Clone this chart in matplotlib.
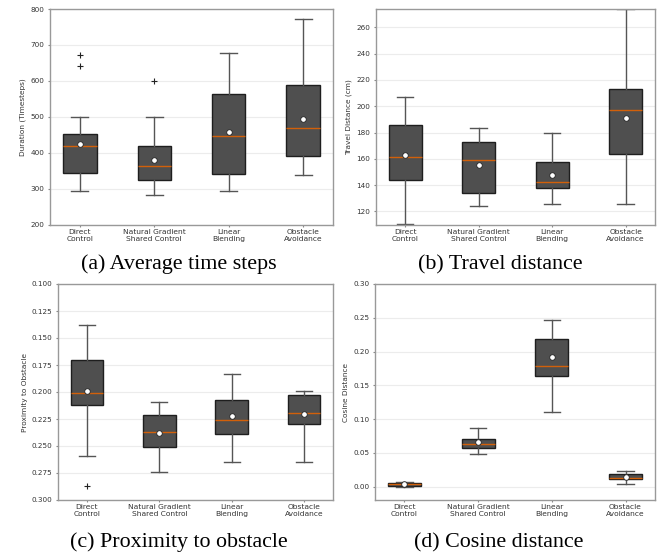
import numpy as np
import matplotlib.pyplot as plt
from matplotlib.patches import Rectangle

labels = ['Direct\nControl', 'Natural Gradient\nShared Control', 'Linear\nBlending', 'Obstacle\nAvoidance']

# (a) duration in timesteps
dur_lo = [294, 282, 293, 337]
dur_q1 = [342, 325, 340, 392]
dur_med = [418, 362, 446, 468]
dur_q3 = [451, 419, 562, 589]
dur_hi = [498, 499, 677, 773]
dur_mean = [423, 380, 457, 495]
dur_fliers = [[641, 673], [599], [], []]

# (b) travel distance (cm)
trav_lo = [110.7, 123.8, 125.8, 125.6]
trav_q1 = [144.0, 134.2, 137.7, 163.4]
trav_med = [161.3, 159.0, 142.7, 197.4]
trav_q3 = [185.8, 172.7, 157.7, 213.1]
trav_hi = [207.3, 183.5, 180.0, 274.0]
trav_mean = [163.0, 155.2, 148.0, 191.3]
trav_fliers = [[], [], [], []]

# (c) proximity to obstacle
prox_lo = [0.1383, 0.2088, 0.1832, 0.1989]
prox_q1 = [0.1702, 0.2215, 0.2076, 0.2032]
prox_med = [0.2008, 0.2366, 0.2261, 0.2196]
prox_q3 = [0.2122, 0.2512, 0.2385, 0.2292]
prox_hi = [0.2589, 0.2743, 0.2651, 0.2645]
prox_mean = [0.1995, 0.2382, 0.2221, 0.2202]
prox_fliers = [[0.2867], [], [], []]

# (d) cosine distance
cos_lo = [0.0, 0.0485, 0.1099, 0.0040]
cos_q1 = [0.0010, 0.0574, 0.1634, 0.0104]
cos_med = [0.0035, 0.0629, 0.1792, 0.0129]
cos_q3 = [0.0059, 0.0708, 0.2183, 0.0183]
cos_hi = [0.0074, 0.0866, 0.2470, 0.0233]
cos_mean = [0.0035, 0.0658, 0.1920, 0.0144]
cos_fliers = [[], [], [], []]


def make_stats(lo, q1, med, q3, hi, mean, fliers):
    stats = []
    for i in range(len(lo)):
        stats.append(dict(whislo=lo[i], q1=q1[i], med=med[i], q3=q3[i],
                          whishi=hi[i], mean=mean[i], fliers=fliers[i]))
    return stats


def draw_panel(ax, stats, ylabel, ylim, yticks, fmt):
    ax.bxp(stats, positions=[1, 2, 3, 4], widths=0.45, showmeans=True,
           patch_artist=True,
           boxprops=dict(facecolor='#4f4f4f', edgecolor='#1e1e1e', linewidth=1.0),
           medianprops=dict(color='#d2600a', linewidth=1.0),
           whiskerprops=dict(color='#555555', linewidth=1.0),
           capprops=dict(color='#555555', linewidth=1.0),
           meanprops=dict(marker='o', markerfacecolor='white', markeredgecolor='#222222',
                          markersize=4, markeredgewidth=0.6),
           flierprops=dict(marker='+', markeredgecolor='#222222', markersize=4,
                           markeredgewidth=0.8))
    ax.set_xlim(0.6, 4.4)
    ax.set_ylim(*ylim)
    ax.set_yticks(yticks)
    ax.set_yticklabels([fmt.format(t) for t in yticks])
    ax.set_xticks([1, 2, 3, 4])
    ax.set_xticklabels(labels, linespacing=1.15)
    ax.set_ylabel(ylabel, fontsize=5.3, color='#333333', labelpad=3)
    ax.tick_params(colors='#888888', labelcolor='#333333', length=1.5, width=0.8)
    ax.tick_params(axis='x', pad=1.6, labelsize=5.4)
    ax.tick_params(axis='y', pad=2.5, labelsize=5.2)
    ax.yaxis.grid(True, color='#ececec', linewidth=0.8)
    ax.set_axisbelow(True)
    for s in ax.spines.values():
        s.set_color('#999999')
        s.set_linewidth(1.0)


fig = plt.figure(figsize=(6.67, 5.52), dpi=100)
W, H = 667.0, 552.0


def add_ax(l, r, t, b):
    return fig.add_axes([l / W, 1 - b / H, (r - l) / W, (b - t) / H])


ax_a = add_ax(50, 333, 9, 224.5)
ax_b = add_ax(375.7, 655, 9, 224.5)
ax_c = add_ax(58, 333, 284, 500)
ax_d = add_ax(375, 655, 284, 500)

draw_panel(ax_a, make_stats(dur_lo, dur_q1, dur_med, dur_q3, dur_hi, dur_mean, dur_fliers),
           'Duration (Timesteps)', (200, 800), np.arange(200, 801, 100), '{:.0f}')
draw_panel(ax_b, make_stats(trav_lo, trav_q1, trav_med, trav_q3, trav_hi, trav_mean, trav_fliers),
           'Travel Distance (cm)', (110, 274), np.arange(120, 261, 20), '{:.0f}')
draw_panel(ax_c, make_stats(prox_lo, prox_q1, prox_med, prox_q3, prox_hi, prox_mean, prox_fliers),
           'Proximity to Obstacle', (0.300, 0.100), np.arange(0.100, 0.3001, 0.025), '{:.3f}')
draw_panel(ax_d, make_stats(cos_lo, cos_q1, cos_med, cos_q3, cos_hi, cos_mean, cos_fliers),
           'Cosine Distance', (-0.02, 0.30), np.arange(0.0, 0.3001, 0.05), '{:.2f}')

# the original subfigures were cropped just under the tick labels
for y0, y1 in [(245.5, 251), (521.8, 528)]:
    fig.patches.append(Rectangle((0, 1 - y1 / H), 1, (y1 - y0) / H, transform=fig.transFigure,
                                 facecolor='white', edgecolor='none', zorder=5))

cap = dict(fontsize=15.8, family='Liberation Serif', ha='center', va='baseline', zorder=10)
fig.text(179 / W, 1 - 269 / H, '(a) Average time steps', **cap)
fig.text(500 / W, 1 - 269 / H, '(b) Travel distance', **cap)
fig.text(179 / W, 1 - 547 / H, '(c) Proximity to obstacle', **cap)
fig.text(499 / W, 1 - 547 / H, '(d) Cosine distance', **cap)

fig.savefig('out.png', dpi=100)
